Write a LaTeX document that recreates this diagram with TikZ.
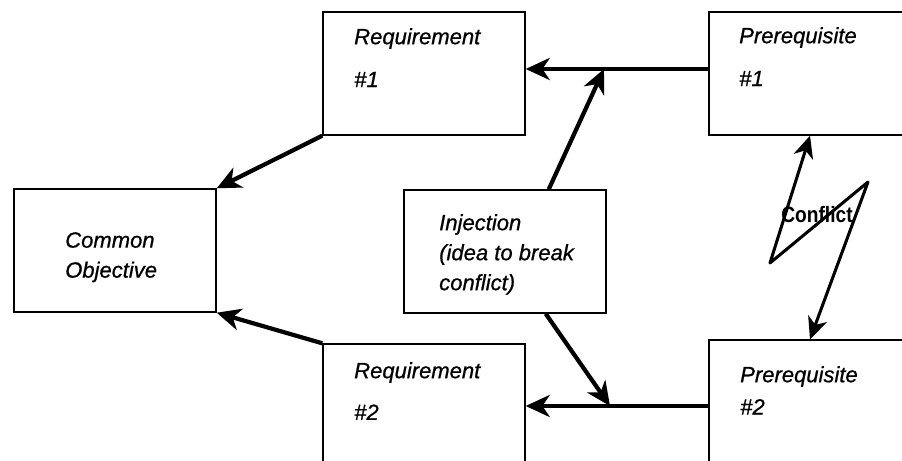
\documentclass[tikz,border=0pt]{standalone}
\usepackage{fontspec}
\setmainfont{Liberation Sans}[ItalicFeatures={FakeBold=0.8}]
\usetikzlibrary{calc,arrows.meta}

\begin{document}
\begin{tikzpicture}[
  box/.style={draw, line width=1.2pt, minimum width=6.06cm, minimum height=3.69cm, inner sep=0pt},
  lbl/.style={anchor=north west, inner sep=0pt, align=left, font=\fontsize{18.8}{25.6}\selectfont\itshape},
  arr/.style={line width=3.6pt, -{Stealth[length=.72cm, width=.66cm, inset=.22cm]}},
  bolt/.style={line width=2.6pt, line join=round, {Stealth[length=.66cm, width=.6cm, inset=.2cm]}-{Stealth[length=.66cm, width=.6cm, inset=.2cm]}}
]
	\clip (0cm,0cm) rectangle (27.06cm,-13.83cm);
	\node[box] (R1) at (12.72cm,-2.205cm) {};
	\node[box] (P1) at (24.3cm,-2.205cm) {};
	\node[box] (C) at (3.45cm,-7.515cm) {};
	\node[box] (I) at (15.15cm,-7.545cm) {};
	\node[box] (R2) at (12.72cm,-12.165cm) {};
	\node[box] (P2) at (24.3cm,-12.045cm) {};
	\node[lbl] (LR1) at (10.62cm,-.84cm) {Requirement\\[11pt]\#1};
	\node[lbl] (LP1) at (22.17cm,-.81cm) {Prerequisite\\[11pt]\#1};
	\node[lbl] (LC) at (1.95cm,-6.96cm) {Common\\Objective};
	\node[lbl] (LI) at (13.17cm,-6.42cm) {Injection\\(idea to break\\conflict)};
	\node[lbl] (LR2) at (10.62cm,-10.86cm) {Requirement\\[10pt]\#2};
	\node[lbl] (LP2) at (22.2cm,-10.98cm) {Prerequisite\\[2pt]\#2};
	\coordinate (J1) at (18.12cm,-2.07cm);
	\coordinate (J2) at (18.3cm,-12.18cm);
	\coordinate (K1) at (23.1cm,-7.89cm);
	\coordinate (K2) at (26.04cm,-5.46cm);
	\node[font=\fontsize{19}{22}\selectfont\bfseries, xscale=.86, inner sep=0pt] (Cf) at (24.51cm,-6.45cm) {Conflict};
	\draw[arr] (R1.south west) -- (C.north east);
	\draw[arr] (R2.north west) -- (C.south east);
	\draw[arr] (P1.west |- J1) -- (R1.east |- J1);
	\draw[arr] (P2.west |- J2) -- (R2.east |- J2);
	\draw[arr] ($(I.north west)!.715!(I.north east)$) -- (J1);
	\draw[arr] ($(I.south west)!.70!(I.south east)$) -- (J2);
	\draw[bolt] (P1.south) -- (K1) -- (K2) -- (P2.north);
\end{tikzpicture}
\end{document}
